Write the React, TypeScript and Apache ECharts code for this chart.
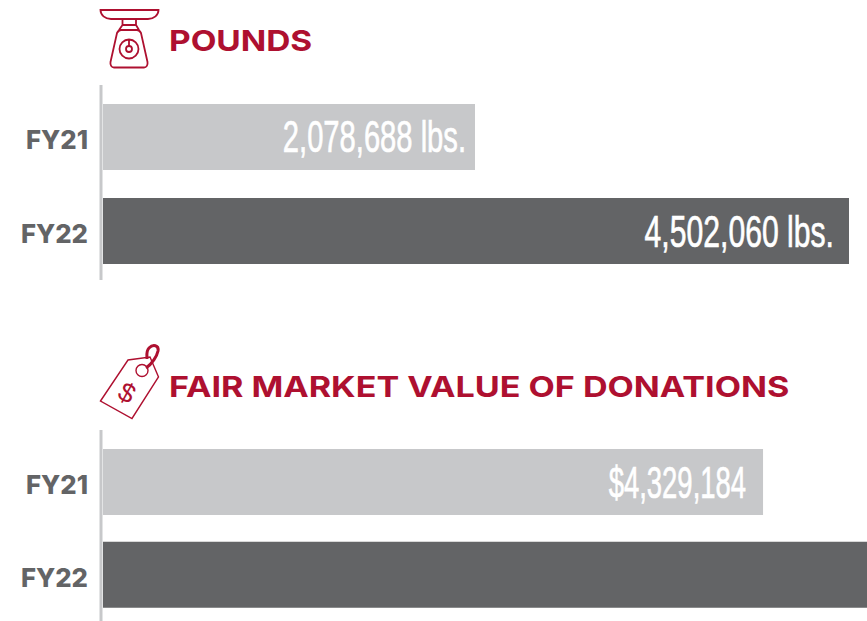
import React, { useEffect, useRef } from "react";
import * as echarts from "echarts";

const categories = ["FY21", "FY22"];
// Bar lengths as drawn in the picture (the drawn bars are not proportional to their printed labels).
const poundsBars = [2245000, 4502060];
const poundsLabels = ["2,078,688 lbs.", "4,502,060 lbs."];
const valueBars = [4329184, 5011000];
const valueLabels = ["$4,329,184", ""];
const titles = ["POUNDS", "FAIR MARKET VALUE OF DONATIONS"];

const RED = "#ae1030";
const LIGHT = "#c7c8ca";
const DARK = "#636466";

const scalePath =
  "M100.5 10 L158.5 10 C158.5 15 154 19 148 19 L111 19 C105 19 100.5 15 100.5 10 Z " +
  "M122.5 19 L122.5 25 L136 25 L136 19 M119 30 L122.5 25 M136 25 L139 30 " +
  "M121 30 L137 30 C139 30 140 31 141 33 L147.5 62 C148 65 146.5 67.5 144 67.5 L114 67.5 C111.5 67.5 110 65 110.5 62 L117 33 C118 31 119 30 121 30 Z " +
  "M138.5 49 A9.5 9.5 0 1 1 119.5 49 A9.5 9.5 0 1 1 138.5 49 Z " +
  "M132 49 A3 3 0 1 1 126 49 A3 3 0 1 1 132 49 Z M129 46 L129 40";
const tagPath =
  "M100.5 401 L128 360 L150 357 L158.5 377 L132 418.5 Z " +
  "M148 370.5 A6 6 0 1 1 136 370.5 A6 6 0 1 1 148 370.5 Z";
const hookPath = "M146 368 C152 364 157 356 158 351 C159 345 153 344 149 348 C146 351 147 355 147 359";

function labelSeries(xIdx: number, values: number[], labels: string[], insets: number[], scales: number[]) {
  return {
    type: "custom",
    xAxisIndex: xIdx,
    yAxisIndex: xIdx,
    silent: true,
    z: 5,
    data: values.map((v, i) => [v, i]),
    renderItem: (params: any, api: any) => {
      const i = api.value(1);
      const p = api.coord([api.value(0), i]);
      return {
        type: "text",
        x: p[0] - insets[i],
        y: p[1],
        scaleX: scales[i],
        style: {
          text: labels[i],
          fill: "#ffffff",
          stroke: "#ffffff",
          lineWidth: 0.7,
          align: "right",
          verticalAlign: "middle",
          font: '400 45px "Liberation Sans Narrow", "Liberation Sans", sans-serif',
        },
      };
    },
  };
}

function barSeries(idx: number, values: number[]) {
  return {
    type: "bar",
    xAxisIndex: idx,
    yAxisIndex: idx,
    barWidth: 66,
    silent: true,
    data: values.map((v, i) => ({ value: v, itemStyle: { color: i === 0 ? LIGHT : DARK } })),
  };
}

function yAxis(idx: number, lineHeight: number) {
  return {
    type: "category",
    gridIndex: idx,
    inverse: true,
    data: categories,
    axisLine: { show: false },
    axisTick: { show: false },
    axisLabel: {
      margin: 15,
      color: DARK,
      fontFamily: "Inter",
      fontWeight: 800,
      fontSize: 25.7,
      verticalAlign: "top",
      lineHeight,
    },
  };
}

function xAxis(idx: number, max: number) {
  return { type: "value", gridIndex: idx, min: 0, max, show: false };
}

function titleText(text: string, y: number, scaleX: number) {
  return {
    type: "text",
    x: 169,
    y,
    scaleX,
    style: {
      text,
      fill: RED,
      align: "left",
      verticalAlign: "middle",
      font: '700 29px "Inter", sans-serif',
    },
  };
}

export default function App() {
  const ref = useRef<HTMLDivElement>(null);
  useEffect(() => {
    echarts.graphic.registerShape("scaleIcon", echarts.graphic.extendPath(scalePath, {}) as any);
    echarts.graphic.registerShape("tagIcon", echarts.graphic.extendPath(tagPath, {}) as any);
    echarts.graphic.registerShape("hookIcon", echarts.graphic.extendPath(hookPath, {}) as any);
    const chart = echarts.init(ref.current!, undefined, { renderer: "svg" });
    chart.setOption({
      animation: false,
      backgroundColor: "#ffffff",
      grid: [
        { left: 103, top: 90, width: 746, height: 188 },
        { left: 103, top: 435.5, width: 764, height: 186 },
      ],
      xAxis: [xAxis(0, poundsBars[1]), xAxis(1, valueBars[1])],
      yAxis: [yAxis(0, 5), yAxis(1, 6)],
      series: [
        barSeries(0, poundsBars),
        barSeries(1, valueBars),
        labelSeries(0, poundsBars, poundsLabels, [9, 15], [0.648, 0.67]),
        labelSeries(1, valueBars, valueLabels, [17, 15], [0.61, 0.61]),
      ],
      graphic: [
        titleText(titles[0], 41, 1.152),
        titleText(titles[1], 386, 1.177),
        { type: "line", shape: { x1: 101, y1: 85, x2: 101, y2: 280 }, style: { stroke: LIGHT, lineWidth: 3 } },
        { type: "line", shape: { x1: 101, y1: 430, x2: 101, y2: 621 }, style: { stroke: LIGHT, lineWidth: 3 } },
        { type: "scaleIcon", x: 0, y: 0, style: { fill: "none", stroke: RED, lineWidth: 1.8 } },
        { type: "tagIcon", x: 0, y: 0, style: { fill: "none", stroke: RED, lineWidth: 1.4 } },
        { type: "hookIcon", x: 0, y: 0, style: { fill: "none", stroke: RED, lineWidth: 3 } },
        {
          type: "text",
          x: 127,
          y: 393,
          rotation: -0.5,
          style: {
            text: "$",
            fill: RED,
            align: "center",
            verticalAlign: "middle",
            font: '400 27px "Liberation Sans", sans-serif',
          },
        },
      ],
    });
    return () => chart.dispose();
  }, []);
  return <div ref={ref} style={{ position: "fixed", left: 0, top: 0, width: 867, height: 621 }} />;
}
